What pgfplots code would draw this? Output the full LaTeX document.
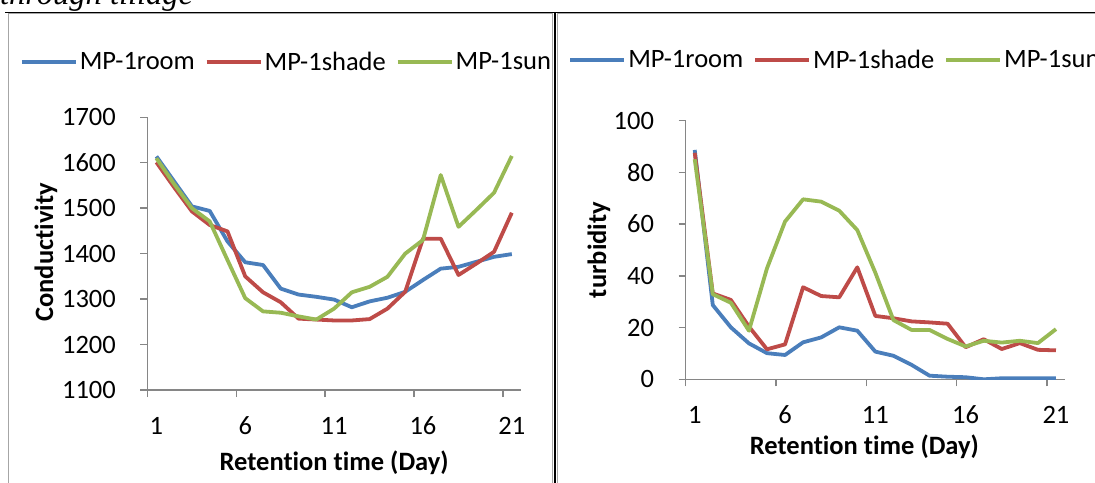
\documentclass[border=0pt]{standalone}
\usepackage{fontspec}
\setmainfont{Carlito}[Ligatures=NoCommon]
\newfontfamily\capfont{Liberation Serif}
\usepackage{pgfplots}
\pgfplotsset{compat=1.18}

\definecolor{cRoom}{HTML}{4A7EBB}
\definecolor{cShade}{HTML}{BE4B48}
\definecolor{cSun}{HTML}{98B954}
\definecolor{axgray}{HTML}{868686}
\definecolor{framegray}{HTML}{A6A6A6}

\pgfplotsset{
  xlchart/.style={
    scale only axis,
    font=\fontsize{26.5}{30}\selectfont,
    /pgf/number format/assume math mode=true,
    /pgf/number format/1000 sep={},
    axis x line*=bottom, axis y line*=left,
    axis line style={axgray, line width=1.5pt, -},
    xmin=0.5, xmax=21.5,
    xtick={1,6,11,16,21},
    minor xtick={0.5,5.5,10.5,15.5,20.5},
    major x tick style={draw=none},
    minor x tick style={axgray, line width=1.5pt},
    ytick style={axgray, line width=1.5pt},
    tick align=outside,
    major tick length=7pt, minor tick length=7pt,
    xticklabel style={anchor=center, inner sep=0pt, yshift=-28.5pt},
    yticklabel style={anchor=east, inner sep=0pt, xshift=-24.5pt},
    legend columns=-1,
    legend style={draw=none, fill=none, anchor=west, inner sep=0pt, outer sep=0pt,
      nodes={inner sep=2pt}, font=\fontsize{26.5}{30}\selectfont,
      /tikz/every even column/.append style={column sep=8pt}},
    legend image code/.code={\draw[#1] (0pt,0pt) -- (54pt,0pt);},
    every axis plot/.append style={line width=3.8pt, line join=round, no markers},
  }
}

\begin{document}
\begin{tikzpicture}
\useasboundingbox (0pt,0pt) rectangle (1095pt,482pt);
% page frame lines
\draw[framegray, line width=1.3pt] (8.5pt,-5pt) -- (8.5pt,468.3pt) -- (552.7pt,468.3pt) -- (552.7pt,-5pt);
\draw[framegray, line width=1.3pt] (557.3pt,-5pt) -- (557.3pt,468.3pt) -- (1100pt,468.3pt);
\draw[black, line width=1.3pt] (5pt,469.3pt) -- (1100pt,469.3pt);
\draw[black, line width=1.2pt] (555pt,469.3pt) -- (555pt,-5pt);
\node[anchor=base west, inner sep=0pt, font=\capfont\itshape\fontsize{32.5}{36}\selectfont] at (0pt,477pt) {through tillage};

% conductivity
\begin{axis}[xlchart, at={(147.5pt,92pt)}, anchor=south west,
  width=373.2pt, height=272.7pt,
  ymin=1100, ymax=1700, ytick={1100,1200,...,1700},
  xlabel={\bfseries Retention time (Day)},
  xlabel style={at={(axis description cs:0.5,0)}, anchor=center, yshift=-73pt},
  ylabel={\bfseries Conductivity},
  ylabel style={at={(axis description cs:-0.272,0.505)}, anchor=center},
  legend style={at={(-0.3416,1.2028)}},
]
\addplot[cRoom] coordinates {(1,1614)(2,1559)(3,1504)(4,1494)(5,1427)(6,1381)(7,1375)(8,1323)(9,1310)(10,1305)(11,1299)(12,1282)(13,1295)(14,1303)(15,1316)(16,1342)(17,1367)(18,1371)(19,1382)(20,1393)(21,1399)};
\addplot[cShade] coordinates {(1,1601)(2,1546)(3,1493)(4,1463)(5,1449)(6,1350)(7,1315)(8,1293)(9,1257)(10,1255)(11,1253)(12,1253)(13,1256)(14,1279)(15,1316)(16,1433)(17,1433)(18,1353)(19,1378)(20,1404)(21,1490)};
\addplot[cSun] coordinates {(1,1610)(2,1553)(3,1500)(4,1471)(5,1386)(6,1302)(7,1273)(8,1270)(9,1262)(10,1255)(11,1279)(12,1315)(13,1327)(14,1349)(15,1400)(16,1430)(17,1573)(18,1459)(19,1496)(20,1534)(21,1615)};
\legend{MP-1room,MP-1shade,MP-1sun}
\end{axis}

% turbidity
\begin{axis}[xlchart, at={(685.7pt,102.7pt)}, anchor=south west,
  width=379.3pt, height=258.6pt,
  ymin=0, ymax=100, ytick={0,20,...,100},
  xlabel={\bfseries Retention time (Day)},
  xlabel style={at={(axis description cs:0.5,0)}, anchor=center, yshift=-67.7pt, xshift=-11pt},
  ylabel={\bfseries turbidity},
  ylabel style={at={(axis description cs:-0.2286,0.5)}, anchor=center},
  legend style={at={(-0.309,1.2347)}},
]
\addplot[cRoom] coordinates {(1,88.7)(2,28.7)(3,20.1)(4,13.9)(5,10.1)(6,9.4)(7,14.3)(8,16.2)(9,20.1)(10,18.8)(11,10.7)(12,9.1)(13,5.6)(14,1.4)(15,1.0)(16,0.8)(17,0.0)(18,0.4)(19,0.4)(20,0.4)(21,0.4)};
\addplot[cShade] coordinates {(1,87.6)(2,33.2)(3,30.7)(4,20.4)(5,11.6)(6,13.5)(7,35.6)(8,32.2)(9,31.7)(10,43.3)(11,24.5)(12,23.6)(13,22.4)(14,22.0)(15,21.5)(16,12.4)(17,15.5)(18,11.7)(19,14.0)(20,11.4)(21,11.2)};
\addplot[cSun] coordinates {(1,85.1)(2,32.9)(3,29.6)(4,18.8)(5,42.9)(6,61.0)(7,69.6)(8,68.7)(9,65.2)(10,57.7)(11,41.2)(12,22.9)(13,19.1)(14,19.1)(15,15.6)(16,12.7)(17,14.9)(18,14.2)(19,14.9)(20,14.0)(21,19.4)};
\legend{MP-1room,MP-1shade,MP-1sun}
\end{axis}
\end{tikzpicture}
\end{document}
